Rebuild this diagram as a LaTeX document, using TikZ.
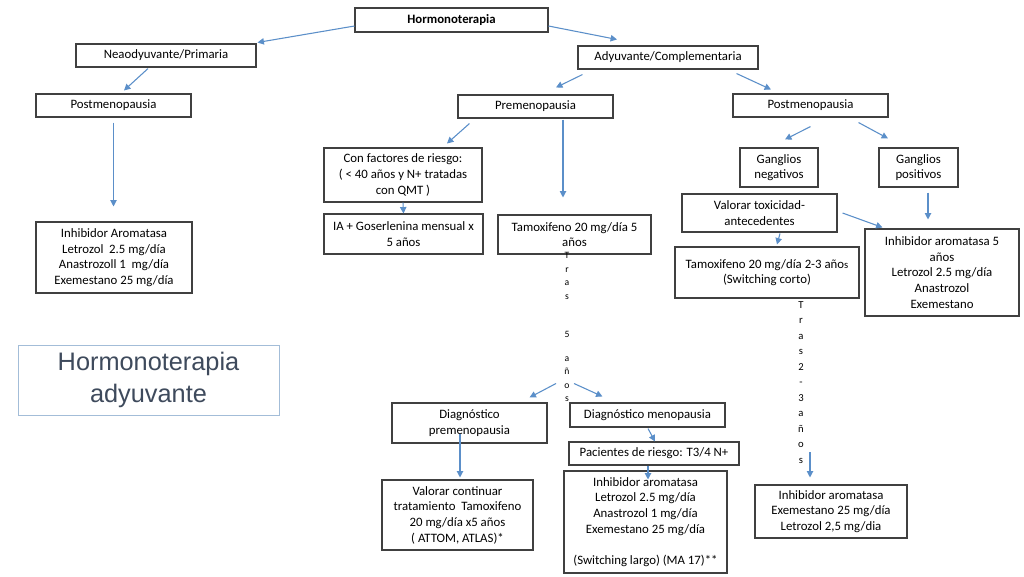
\documentclass[tikz,border=0pt]{standalone}
\usepackage{fontspec}
\setmainfont{Carlito}
\newfontfamily\titlefont{Liberation Sans}
\usetikzlibrary{arrows.meta,calc}
\definecolor{arrc}{HTML}{5B8FC9}
\definecolor{boxc}{HTML}{404040}
\definecolor{titlec}{HTML}{3E4A5C}
\definecolor{titleb}{HTML}{A3BDD8}
\begin{document}
\begin{tikzpicture}[x=0.703125pt,y=-0.703125pt,
  box/.style={draw=boxc, line width=0.75pt, inner sep=0pt, align=center,
    font=\fontsize{9}{11}\selectfont, text=black},
  wh/.style 2 args={minimum width=#1*0.703125pt, minimum height=#2*0.703125pt},
  arr/.style={draw=arrc, line width=0.75pt, -{Triangle[length=4.5pt,width=4.5pt]}},
  vtext/.style={inner sep=0pt, align=center, text=black}]
\useasboundingbox (0,0) rectangle (1024,576);
\fill[white] (0,0) rectangle (1024,576);

% boxes
\node[box, wh={193}{24}] (h) at (451.5,20) {\textbf{Hormonoterapia}};
\node[box, wh={180}{23}] (neo) at (166,55.5) {Neaodyuvante/Primaria};
\node[box, wh={180}{23}] (ady) at (668,57.5) {Adyuvante/Complementaria};
\node[box, wh={155}{23}] (postL) at (113.5,105.5) {Postmenopausia};
\node[box, wh={155}{23}] (pre) at (535.5,106.5) {Premenopausia};
\node[box, wh={155}{23}] (postR) at (810.5,105.5) {Postmenopausia};
\node[box, wh={156}{71}] (iaL) at (114,257.5) {Inhibidor Aromatasa\\Letrozol\ \ 2.5 mg/día\\Anastrozoll 1\ \ mg/día\\Exemestano 25 mg/día};
\node[box, wh={158}{54}] (conf) at (403,175) {Con factores de riesgo:\\( < 40 años y N+ tratadas\\con QMT )};
\node[box, wh={159}{40}] (gos) at (403.5,234) {IA + Goserlenina mensual x\\5 años};
\node[box, wh={153}{39}] (tam5) at (574.5,234.5) {Tamoxifeno 20 mg/día 5\\años};
\node[box, wh={78}{39}] (gneg) at (779,167.5) {Ganglios\\negativos};
\node[box, wh={79}{39}] (gpos) at (918.5,167.5) {Ganglios\\positivos};
\node[box, wh={155}{38}] (valtox) at (759.5,213) {Valorar toxicidad-\\antecedentes};
\node[box, wh={184}{51}] (tam23) at (767,272.5) {Tamoxifeno 20 mg/día 2-3 año{\fontsize{7.5}{9}\selectfont s}\\(Switching corto)};
\node[box, wh={154}{87}] (ia5) at (942,272.5) {Inhibidor aromatasa 5\\años\\Letrozol 2.5 mg/día\\Anastrozol\\Exemestano};
\node[box, wh={155}{40}] (dpre) at (469.5,423) {Diagnóstico\\premenopausia};
\node[box, wh={155}{24}] (dmen) at (647.5,415) {Diagnóstico menopausia};
\node[box, wh={170}{23}] (pac) at (654,453.5) {Pacientes de riesgo: T3/4 N+};
\node[box, wh={151}{70}] (valcon) at (457.5,515) {Valorar continuar\\tratamiento\ \ Tamoxifeno\\20 mg/día x5 años\\( ATTOM, ATLAS)*};
\node[box, wh={163}{102}] (iaMA) at (645.5,522) {Inhibidor aromatasa\\Letrozol 2.5 mg/día\\Anastrozol 1 mg/día\\Exemestano 25 mg/día\\[11pt](Switching largo) (MA 17)**};
\node[box, wh={152}{53}] (iaEx) at (831,511.5) {Inhibidor aromatasa\\Exemestano 25 mg/día\\Letrozol 2,5 mg/dia};

% title box
\node[draw=titleb, line width=0.7pt, wh={261}{70}, inner sep=0pt, align=center,
  text=titlec, font=\titlefont\fontsize{17.8}{22}\selectfont] (title) at (148.5,380)
  {Hormonoterapia\\adyuvante};

% vertical texts
\node[vtext, anchor=north, font=\fontsize{6.8}{9.5}\selectfont] (tras5) at (567,252)
  {T\\r\\a\\s\\[17.2pt]5\\[7.4pt]a\\ñ\\o\\s};
\node[vtext, anchor=north, font=\fontsize{7.5}{10.9}\selectfont] (tras23) at (801,301)
  {T\\r\\a\\s\\2\\-\\3\\a\\ñ\\o\\s};
\coordinate (t5) at (565,383.5);
\coordinate (t23) at (810,452);

% arrows
\draw[arr] ($(h.west)+(0,6)$) -- ($(neo.north east)+(1,-1)$);
\draw[arr] ($(h.east)+(0,6)$) -- ($(ady.north)+(-51,-6)$);
\draw[arr] ($(neo.south)+(-18,1)$) -- ($(postL.north)+(10.5,-3)$);
\draw[arr] ($(ady.south west)+(5,5)$) -- ($(pre.north)+(20.5,-7)$);
\draw[arr] ($(ady.south east)+(-22,4)$) -- ($(postR.north)+(-39.5,-4)$);
\draw[arr] ($(postL.south)+(0,5)$) -- ($(iaL.north)+(-0.5,-15)$);
\draw[arr] ($(pre.south west)+(12,5)$) -- ($(conf.north)+(44,-4)$);
\draw[arr] ($(pre.south)+(27.5,1)$) -- ($(tam5.north)+(-11.5,-17)$);
\draw[arr] (conf.south) -- (gos.north);
\draw[arr] ($(postR.south)+(0,9)$) -- ($(gneg.north)+(6,-8)$);
\draw[arr] ($(postR.south east)+(-30,5)$) -- ($(gpos.north)+(-30.5,-9)$);
\draw[arr] ($(gpos.south)+(9.5,5)$) -- ($(ia5.north)+(-14,-9)$);
\draw[arr] ($(valtox.east)+(5,0)$) -- ($(ia5.north west)+(18,-1)$);
\draw[arr] ($(valtox.south)+(20.5,1)$) -- ($(tam23.north)+(10,-2)$);
\draw[arr] ($(t5)+(-9,0)$) -- ($(dpre.north east)+(-18,-5)$);
\draw[arr] ($(t5)+(9,0)$) -- ($(dmen.north west)+(33,-6)$);
\draw[arr] ($(dmen.south)+(0.5,1)$) -- ($(pac.north)+(1,0)$);
\draw[arr] ($(dpre.south)+(-9.5,-10)$) -- ($(valcon.north)+(2.5,-2)$);
\draw[arr] ($(pac.south)+(-6,0)$) -- ($(iaMA.north)+(2.5,9)$);
\draw[arr] (t23) -- ($(iaEx.north)+(-21,-7)$);
\end{tikzpicture}
\end{document}
